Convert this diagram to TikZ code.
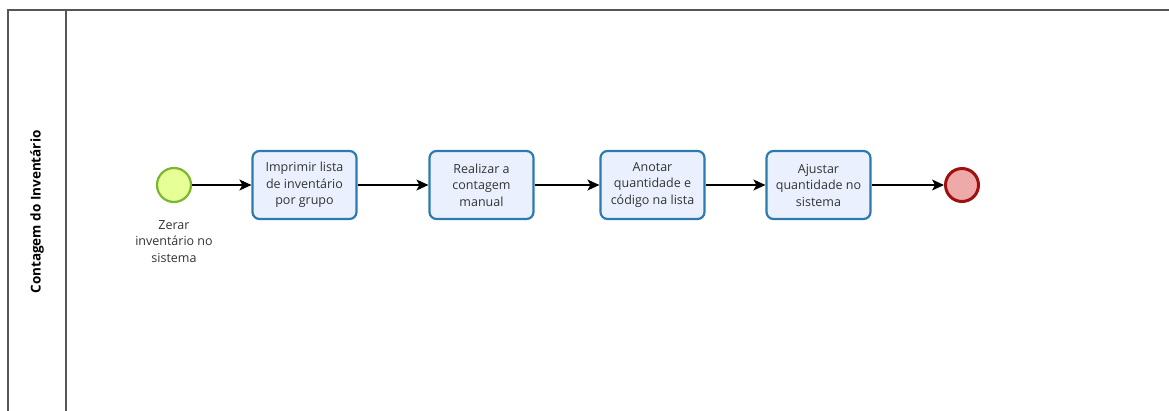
\documentclass[tikz,border=0pt]{standalone}
\usepackage{fontspec}
\setmainfont{Open Sans}
\usetikzlibrary{arrows.meta}
\definecolor{poolline}{HTML}{555555}
\definecolor{startfill}{HTML}{E6FF97}
\definecolor{startline}{HTML}{7AB72E}
\definecolor{taskfill}{HTML}{EAF0FD}
\definecolor{taskline}{HTML}{2C7AAE}
\definecolor{endfill}{HTML}{EEA9A9}
\definecolor{endline}{HTML}{A10F0F}
\definecolor{txt}{HTML}{333333}
\tikzset{
  taskbox/.style={draw=taskline, fill=taskfill, line width=2.2pt, rounded corners=7pt,
    minimum width=104pt, minimum height=68pt, inner sep=2pt, align=center,
    font=\fontsize{12.5}{16.5}\selectfont, text=txt},
  startev/.style={circle, draw=startline, fill=startfill, line width=2.2pt, minimum size=34pt, inner sep=0pt},
  endev/.style={circle, draw=endline, fill=endfill, line width=3pt, minimum size=33pt, inner sep=0pt},
  flow/.style={draw=black, line width=1.4pt, -{Stealth[length=12pt,width=11pt,inset=3pt]}},
  evlabel/.style={align=center, font=\fontsize{12.5}{16.5}\selectfont, text=txt}
}
\begin{document}
\begin{tikzpicture}[x=1pt,y=-1pt]
\useasboundingbox (0,0) rectangle (1169,410);
% pool and lane header
\draw[poolline, line width=2pt] (8,420) -- (8,9.5) -- (1180,9.5);
\draw[poolline, line width=1.6pt] (66,9.5) -- (66,420);
\node[rotate=90, font=\bfseries\fontsize{13.5}{16}\selectfont] (lane) at (37,212) {Contagem do Inventário};
% events and tasks
\node[startev] (start) at (174,185) {};
\node[evlabel, anchor=north] (startlbl) at (174,217) {Zerar\\inventário no\\sistema};
\node[taskbox] (t1) at (304.5,185) {Imprimir lista\\de inventário\\por grupo};
\node[taskbox] (t2) at (481.5,185) {Realizar a\\contagem\\manual};
\node[taskbox] (t3) at (652.5,185) {Anotar\\quantidade e\\código na lista};
\node[taskbox] (t4) at (818.5,185) {Ajustar\\quantidade no\\sistema};
\node[endev] (end) at (962,185) {};
% sequence flows
\draw[flow] (start) -- (t1);
\draw[flow] (t1) -- (t2);
\draw[flow] (t2) -- (t3);
\draw[flow] (t3) -- (t4);
\draw[flow] (t4) -- (end);
\end{tikzpicture}
\end{document}
